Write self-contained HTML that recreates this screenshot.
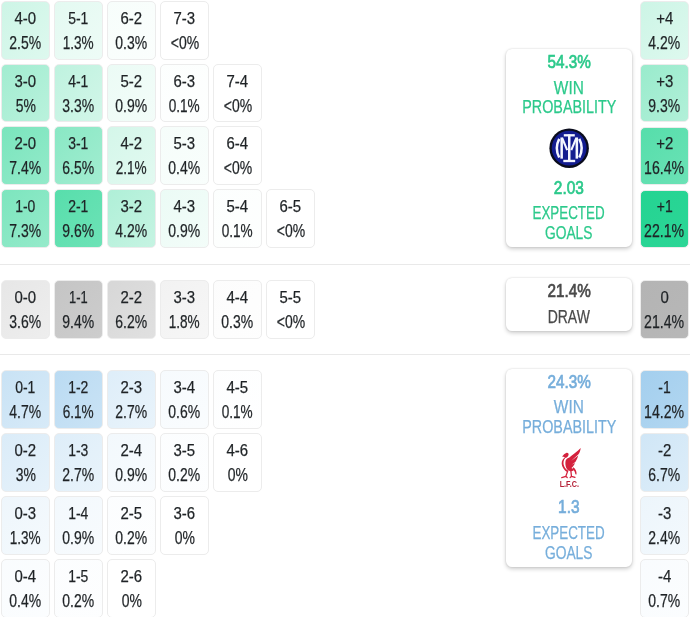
<!DOCTYPE html>
<html lang="en"><head><meta charset="utf-8"><title>Score matrix</title>
<style>
html,body{margin:0;padding:0;background:#fff}
body{width:690px;height:617px;position:relative;overflow:hidden;font-family:"Liberation Sans",sans-serif;color:#1f2326}
.c{position:absolute;box-sizing:border-box;width:49px;height:59px;border:1px solid #ececec;border-radius:5px;background-color:#fff;text-align:center;font-size:17px;line-height:24.5px;padding-top:5px;white-space:nowrap;display:flex;flex-direction:column;align-items:center}
.c .t{display:block;height:24.5px;flex:none}
.t{display:inline-block;transform-origin:center;-webkit-text-stroke:.25px currentColor}
.u{font-size:17.7px;position:relative;top:-1px}
.b{-webkit-text-stroke:.7px currentColor}
.hr{position:absolute;left:0;width:690px;height:1px;background:#e9e9e9}
.card{position:absolute;box-sizing:border-box;background:#fff;border-radius:6px;box-shadow:0 2px 4px rgba(0,0,0,.2),0 0 2px rgba(0,0,0,.14);font-size:18.4px;line-height:22px;text-align:center;white-space:nowrap}
.card.g{color:#2cc98b}.card.bl{color:#76aedb}.card.k{color:#4a4a4a}
.l{position:absolute;left:-40px;right:-40px;text-align:center;height:22px}
.logo{position:absolute;left:33px;top:69px}
</style></head><body>
<div class="hr" style="top:264px"></div>
<div class="hr" style="top:354px"></div>
<div class="c" style="left:1px;top:1px;height:59px;padding-top:5px;background-image:linear-gradient(135deg,rgba(36,212,146,0.228),rgba(36,212,146,0.152))"><span class="t" style="transform:scaleX(0.88)">4-0</span><span class="t u" style="transform:scaleX(0.79)">2.5%</span></div>
<div class="c" style="left:54px;top:1px;height:59px;padding-top:5px;background-image:linear-gradient(135deg,rgba(36,212,146,0.127),rgba(36,212,146,0.080))"><span class="t" style="transform:scaleX(0.82)">5-1</span><span class="t u" style="transform:scaleX(0.77)">1.3%</span></div>
<div class="c" style="left:107px;top:1px;height:59px;padding-top:5px;background-image:linear-gradient(135deg,rgba(36,212,146,0.034),rgba(36,212,146,0.020))"><span class="t" style="transform:scaleX(0.88)">6-2</span><span class="t u" style="transform:scaleX(0.79)">0.3%</span></div>
<div class="c" style="left:160px;top:1px;height:59px;padding-top:5px;background-image:none"><span class="t" style="transform:scaleX(0.88)">7-3</span><span class="t u" style="transform:scaleX(0.79)">&lt;0%</span></div>
<div class="c" style="left:1px;top:64px;height:58px;padding-top:5px;background-image:linear-gradient(135deg,rgba(36,212,146,0.426),rgba(36,212,146,0.316))"><span class="t" style="transform:scaleX(0.88)">3-0</span><span class="t u" style="transform:scaleX(0.79)">5%</span></div>
<div class="c" style="left:54px;top:64px;height:58px;padding-top:5px;background-image:linear-gradient(135deg,rgba(36,212,146,0.293),rgba(36,212,146,0.202))"><span class="t" style="transform:scaleX(0.82)">4-1</span><span class="t u" style="transform:scaleX(0.79)">3.3%</span></div>
<div class="c" style="left:107px;top:64px;height:58px;padding-top:5px;background-image:linear-gradient(135deg,rgba(36,212,146,0.091),rgba(36,212,146,0.056))"><span class="t" style="transform:scaleX(0.88)">5-2</span><span class="t u" style="transform:scaleX(0.79)">0.9%</span></div>
<div class="c" style="left:160px;top:64px;height:58px;padding-top:5px;background-image:linear-gradient(135deg,rgba(36,212,146,0.013),rgba(36,212,146,0.007))"><span class="t" style="transform:scaleX(0.88)">6-3</span><span class="t u" style="transform:scaleX(0.77)">0.1%</span></div>
<div class="c" style="left:213px;top:64px;height:58px;padding-top:5px;background-image:none"><span class="t" style="transform:scaleX(0.88)">7-4</span><span class="t u" style="transform:scaleX(0.79)">&lt;0%</span></div>
<div class="c" style="left:1px;top:126px;height:59px;padding-top:5px;background-image:linear-gradient(135deg,rgba(36,212,146,0.606),rgba(36,212,146,0.491))"><span class="t" style="transform:scaleX(0.88)">2-0</span><span class="t u" style="transform:scaleX(0.79)">7.4%</span></div>
<div class="c" style="left:54px;top:126px;height:59px;padding-top:5px;background-image:linear-gradient(135deg,rgba(36,212,146,0.539),rgba(36,212,146,0.423))"><span class="t" style="transform:scaleX(0.82)">3-1</span><span class="t u" style="transform:scaleX(0.79)">6.5%</span></div>
<div class="c" style="left:107px;top:126px;height:59px;padding-top:5px;background-image:linear-gradient(135deg,rgba(36,212,146,0.195),rgba(36,212,146,0.128))"><span class="t" style="transform:scaleX(0.88)">4-2</span><span class="t u" style="transform:scaleX(0.77)">2.1%</span></div>
<div class="c" style="left:160px;top:126px;height:59px;padding-top:5px;background-image:linear-gradient(135deg,rgba(36,212,146,0.044),rgba(36,212,146,0.026))"><span class="t" style="transform:scaleX(0.88)">5-3</span><span class="t u" style="transform:scaleX(0.79)">0.4%</span></div>
<div class="c" style="left:213px;top:126px;height:59px;padding-top:5px;background-image:none"><span class="t" style="transform:scaleX(0.88)">6-4</span><span class="t u" style="transform:scaleX(0.79)">&lt;0%</span></div>
<div class="c" style="left:1px;top:189px;height:59px;padding-top:5px;background-image:linear-gradient(135deg,rgba(36,212,146,0.598),rgba(36,212,146,0.483))"><span class="t" style="transform:scaleX(0.82)">1-0</span><span class="t u" style="transform:scaleX(0.79)">7.3%</span></div>
<div class="c" style="left:54px;top:189px;height:59px;padding-top:5px;background-image:linear-gradient(135deg,rgba(36,212,146,0.766),rgba(36,212,146,0.667))"><span class="t" style="transform:scaleX(0.82)">2-1</span><span class="t u" style="transform:scaleX(0.79)">9.6%</span></div>
<div class="c" style="left:107px;top:189px;height:59px;padding-top:5px;background-image:linear-gradient(135deg,rgba(36,212,146,0.364),rgba(36,212,146,0.261))"><span class="t" style="transform:scaleX(0.88)">3-2</span><span class="t u" style="transform:scaleX(0.79)">4.2%</span></div>
<div class="c" style="left:160px;top:189px;height:59px;padding-top:5px;background-image:linear-gradient(135deg,rgba(36,212,146,0.091),rgba(36,212,146,0.056))"><span class="t" style="transform:scaleX(0.88)">4-3</span><span class="t u" style="transform:scaleX(0.79)">0.9%</span></div>
<div class="c" style="left:213px;top:189px;height:59px;padding-top:5px;background-image:linear-gradient(135deg,rgba(36,212,146,0.013),rgba(36,212,146,0.007))"><span class="t" style="transform:scaleX(0.88)">5-4</span><span class="t u" style="transform:scaleX(0.77)">0.1%</span></div>
<div class="c" style="left:266px;top:189px;height:59px;padding-top:5px;background-image:none"><span class="t" style="transform:scaleX(0.88)">6-5</span><span class="t u" style="transform:scaleX(0.79)">&lt;0%</span></div>
<div class="c" style="left:1px;top:280px;height:59px;padding-top:5px;background-image:linear-gradient(135deg,rgba(178,178,178,0.317),rgba(178,178,178,0.222))"><span class="t" style="transform:scaleX(0.88)">0-0</span><span class="t u" style="transform:scaleX(0.79)">3.6%</span></div>
<div class="c" style="left:54px;top:280px;height:59px;padding-top:5px;background-image:linear-gradient(135deg,rgba(178,178,178,0.751),rgba(178,178,178,0.650))"><span class="t" style="transform:scaleX(0.76)">1-1</span><span class="t u" style="transform:scaleX(0.79)">9.4%</span></div>
<div class="c" style="left:107px;top:280px;height:59px;padding-top:5px;background-image:linear-gradient(135deg,rgba(178,178,178,0.517),rgba(178,178,178,0.401))"><span class="t" style="transform:scaleX(0.88)">2-2</span><span class="t u" style="transform:scaleX(0.79)">6.2%</span></div>
<div class="c" style="left:160px;top:280px;height:59px;padding-top:5px;background-image:linear-gradient(135deg,rgba(178,178,178,0.170),rgba(178,178,178,0.109))"><span class="t" style="transform:scaleX(0.88)">3-3</span><span class="t u" style="transform:scaleX(0.77)">1.8%</span></div>
<div class="c" style="left:213px;top:280px;height:59px;padding-top:5px;background-image:linear-gradient(135deg,rgba(178,178,178,0.034),rgba(178,178,178,0.020))"><span class="t" style="transform:scaleX(0.88)">4-4</span><span class="t u" style="transform:scaleX(0.79)">0.3%</span></div>
<div class="c" style="left:266px;top:280px;height:59px;padding-top:5px;background-image:none"><span class="t" style="transform:scaleX(0.88)">5-5</span><span class="t u" style="transform:scaleX(0.79)">&lt;0%</span></div>
<div class="c" style="left:1px;top:370px;height:59px;padding-top:5px;background-image:linear-gradient(135deg,rgba(120,184,230,0.403),rgba(120,184,230,0.295))"><span class="t" style="transform:scaleX(0.82)">0-1</span><span class="t u" style="transform:scaleX(0.79)">4.7%</span></div>
<div class="c" style="left:54px;top:370px;height:59px;padding-top:5px;background-image:linear-gradient(135deg,rgba(120,184,230,0.509),rgba(120,184,230,0.394))"><span class="t" style="transform:scaleX(0.82)">1-2</span><span class="t u" style="transform:scaleX(0.77)">6.1%</span></div>
<div class="c" style="left:107px;top:370px;height:59px;padding-top:5px;background-image:linear-gradient(135deg,rgba(120,184,230,0.244),rgba(120,184,230,0.165))"><span class="t" style="transform:scaleX(0.88)">2-3</span><span class="t u" style="transform:scaleX(0.79)">2.7%</span></div>
<div class="c" style="left:160px;top:370px;height:59px;padding-top:5px;background-image:linear-gradient(135deg,rgba(120,184,230,0.063),rgba(120,184,230,0.038))"><span class="t" style="transform:scaleX(0.88)">3-4</span><span class="t u" style="transform:scaleX(0.79)">0.6%</span></div>
<div class="c" style="left:213px;top:370px;height:59px;padding-top:5px;background-image:linear-gradient(135deg,rgba(120,184,230,0.013),rgba(120,184,230,0.007))"><span class="t" style="transform:scaleX(0.88)">4-5</span><span class="t u" style="transform:scaleX(0.77)">0.1%</span></div>
<div class="c" style="left:1px;top:433px;height:59px;padding-top:5px;background-image:linear-gradient(135deg,rgba(120,184,230,0.269),rgba(120,184,230,0.183))"><span class="t" style="transform:scaleX(0.88)">0-2</span><span class="t u" style="transform:scaleX(0.79)">3%</span></div>
<div class="c" style="left:54px;top:433px;height:59px;padding-top:5px;background-image:linear-gradient(135deg,rgba(120,184,230,0.244),rgba(120,184,230,0.165))"><span class="t" style="transform:scaleX(0.82)">1-3</span><span class="t u" style="transform:scaleX(0.79)">2.7%</span></div>
<div class="c" style="left:107px;top:433px;height:59px;padding-top:5px;background-image:linear-gradient(135deg,rgba(120,184,230,0.091),rgba(120,184,230,0.056))"><span class="t" style="transform:scaleX(0.88)">2-4</span><span class="t u" style="transform:scaleX(0.79)">0.9%</span></div>
<div class="c" style="left:160px;top:433px;height:59px;padding-top:5px;background-image:linear-gradient(135deg,rgba(120,184,230,0.023),rgba(120,184,230,0.014))"><span class="t" style="transform:scaleX(0.88)">3-5</span><span class="t u" style="transform:scaleX(0.79)">0.2%</span></div>
<div class="c" style="left:213px;top:433px;height:59px;padding-top:5px;background-image:none"><span class="t" style="transform:scaleX(0.88)">4-6</span><span class="t u" style="transform:scaleX(0.79)">0%</span></div>
<div class="c" style="left:1px;top:496px;height:59px;padding-top:5px;background-image:linear-gradient(135deg,rgba(120,184,230,0.127),rgba(120,184,230,0.080))"><span class="t" style="transform:scaleX(0.88)">0-3</span><span class="t u" style="transform:scaleX(0.77)">1.3%</span></div>
<div class="c" style="left:54px;top:496px;height:59px;padding-top:5px;background-image:linear-gradient(135deg,rgba(120,184,230,0.091),rgba(120,184,230,0.056))"><span class="t" style="transform:scaleX(0.82)">1-4</span><span class="t u" style="transform:scaleX(0.79)">0.9%</span></div>
<div class="c" style="left:107px;top:496px;height:59px;padding-top:5px;background-image:linear-gradient(135deg,rgba(120,184,230,0.023),rgba(120,184,230,0.014))"><span class="t" style="transform:scaleX(0.88)">2-5</span><span class="t u" style="transform:scaleX(0.79)">0.2%</span></div>
<div class="c" style="left:160px;top:496px;height:59px;padding-top:5px;background-image:none"><span class="t" style="transform:scaleX(0.88)">3-6</span><span class="t u" style="transform:scaleX(0.79)">0%</span></div>
<div class="c" style="left:1px;top:559px;height:59px;padding-top:5px;background-image:linear-gradient(135deg,rgba(120,184,230,0.044),rgba(120,184,230,0.026))"><span class="t" style="transform:scaleX(0.88)">0-4</span><span class="t u" style="transform:scaleX(0.79)">0.4%</span></div>
<div class="c" style="left:54px;top:559px;height:59px;padding-top:5px;background-image:linear-gradient(135deg,rgba(120,184,230,0.023),rgba(120,184,230,0.014))"><span class="t" style="transform:scaleX(0.82)">1-5</span><span class="t u" style="transform:scaleX(0.79)">0.2%</span></div>
<div class="c" style="left:107px;top:559px;height:59px;padding-top:5px;background-image:none"><span class="t" style="transform:scaleX(0.88)">2-6</span><span class="t u" style="transform:scaleX(0.79)">0%</span></div>
<div class="c" style="left:640px;top:1px;height:59px;padding-top:5px;background-image:linear-gradient(135deg,rgba(36,212,146,0.230),rgba(36,212,146,0.153))"><span class="t" style="transform:scaleX(0.88)">+4</span><span class="t u" style="transform:scaleX(0.79)">4.2%</span></div>
<div class="c" style="left:640px;top:64px;height:58px;padding-top:5px;background-image:linear-gradient(135deg,rgba(36,212,146,0.466),rgba(36,212,146,0.353))"><span class="t" style="transform:scaleX(0.88)">+3</span><span class="t u" style="transform:scaleX(0.79)">9.3%</span></div>
<div class="c" style="left:640px;top:127px;height:58px;padding-top:4px;background-image:linear-gradient(135deg,rgba(36,212,146,0.772),rgba(36,212,146,0.674))"><span class="t" style="transform:scaleX(0.88)">+2</span><span class="t u" style="transform:scaleX(0.80)">16.4%</span></div>
<div class="c" style="left:640px;top:190px;height:58px;padding-top:4px;background-image:linear-gradient(135deg,rgba(36,212,146,1.000),rgba(36,212,146,0.960))"><span class="t" style="transform:scaleX(0.82)">+1</span><span class="t u" style="transform:scaleX(0.80)">22.1%</span></div>
<div class="c" style="left:640px;top:280px;height:59px;padding-top:5px;background-image:linear-gradient(135deg,rgba(178,178,178,0.978),rgba(178,178,178,0.930))"><span class="t" style="transform:scaleX(0.88)">0</span><span class="t u" style="transform:scaleX(0.80)">21.4%</span></div>
<div class="c" style="left:640px;top:370px;height:59px;padding-top:5px;background-image:linear-gradient(135deg,rgba(120,184,230,0.679),rgba(120,184,230,0.569))"><span class="t" style="transform:scaleX(0.82)">-1</span><span class="t u" style="transform:scaleX(0.80)">14.2%</span></div>
<div class="c" style="left:640px;top:433px;height:59px;padding-top:5px;background-image:linear-gradient(135deg,rgba(120,184,230,0.348),rgba(120,184,230,0.248))"><span class="t" style="transform:scaleX(0.88)">-2</span><span class="t u" style="transform:scaleX(0.79)">6.7%</span></div>
<div class="c" style="left:640px;top:496px;height:59px;padding-top:5px;background-image:linear-gradient(135deg,rgba(120,184,230,0.139),rgba(120,184,230,0.088))"><span class="t" style="transform:scaleX(0.88)">-3</span><span class="t u" style="transform:scaleX(0.79)">2.4%</span></div>
<div class="c" style="left:640px;top:559px;height:59px;padding-top:5px;background-image:linear-gradient(135deg,rgba(120,184,230,0.047),rgba(120,184,230,0.028))"><span class="t" style="transform:scaleX(0.88)">-4</span><span class="t u" style="transform:scaleX(0.79)">0.7%</span></div>


<div class="card g" style="left:506px;top:49px;width:126px;height:198px">
<div class="l " style="top:2.4px"><span class="t b" style="transform:scaleX(0.830)">54.3%</span></div>
<div class="l " style="top:27.5px"><span class="t" style="transform:scaleX(0.840)">WIN</span></div>
<div class="l " style="top:47.3px"><span class="t" style="transform:scaleX(0.780)">PROBABILITY</span></div>
<svg class="logo" width="60" height="60" viewBox="0 0 617 617">
<circle cx="310" cy="310" r="203" fill="#0a0c1c"/>
<circle cx="310" cy="310" r="179" fill="#131c90"/>
<g fill="none" stroke="#f4f6ff" stroke-width="26">
<path d="M208 214Q158 310 208 406"/>
<path d="M414 214Q464 310 414 406"/>
<path d="M233 200V418"/>
<path d="M389 200V418"/>
<path d="M238 205L290 330" stroke-width="22"/>
<path d="M384 205L332 330" stroke-width="22"/>
<path d="M311 170V450"/>
<path d="M255 178H368" stroke-width="24"/>
<path d="M250 442H372" stroke-width="24"/>
</g>
</svg><div class="l " style="top:127.7px"><span class="t b" style="transform:scaleX(0.840)">2.03</span></div>
<div class="l " style="top:153.2px"><span class="t" style="transform:scaleX(0.728)">EXPECTED</span></div>
<div class="l " style="top:173.0px"><span class="t" style="transform:scaleX(0.750)">GOALS</span></div>

</div>
<div class="card k" style="left:506px;top:278px;width:126px;height:53px">
<div class="l " style="top:2.0px"><span class="t b" style="transform:scaleX(0.830)">21.4%</span></div>
<div class="l " style="top:28.0px"><span class="t" style="transform:scaleX(0.760)">DRAW</span></div>

</div>
<div class="card bl" style="left:506px;top:369px;width:126px;height:198px">
<div class="l " style="top:1.8px"><span class="t b" style="transform:scaleX(0.830)">24.3%</span></div>
<div class="l " style="top:27.3px"><span class="t" style="transform:scaleX(0.840)">WIN</span></div>
<div class="l " style="top:47.0px"><span class="t" style="transform:scaleX(0.780)">PROBABILITY</span></div>
<svg class="logo" width="60" height="60" viewBox="0 0 617 617">
<g fill="#d4213d" stroke="none">
<path d="M237 191C250 176 264 158 284 152C300 150 309 162 303 178C299 190 290 196 280 204C270 200 254 194 237 191Z"/>
<path d="M292 186C262 206 248 236 252 268C256 298 276 322 300 340L282 346C254 326 236 298 233 266C231 232 250 204 280 188Z"/>
<path d="M274 232C282 214 296 204 312 200C340 176 392 140 429 102C426 128 418 150 406 168L330 236L404 180C398 204 388 226 374 246L334 276L370 256C362 276 350 294 334 308C346 314 354 322 358 332C340 344 312 344 296 330C276 312 266 270 274 232Z"/>
<path d="M352 300C374 316 390 344 386 372C380 380 374 376 372 366C370 346 360 330 344 318Z"/>
</g>
<g fill="none" stroke="#d4213d" stroke-width="13" stroke-linecap="round" stroke-linejoin="round">
<path d="M296 338L276 394L234 408M276 394L290 406"/>
<path d="M328 340L334 394L370 404M334 394L320 408"/>
</g>
<text x="312" y="505" text-anchor="middle" font-family="Liberation Sans, sans-serif" font-size="102" font-weight="bold" fill="#b42036" textLength="198" lengthAdjust="spacingAndGlyphs">L.F.C.</text>
</svg><div class="l " style="top:126.8px"><span class="t b" style="transform:scaleX(0.840)">1.3</span></div>
<div class="l " style="top:153.0px"><span class="t" style="transform:scaleX(0.728)">EXPECTED</span></div>
<div class="l " style="top:172.6px"><span class="t" style="transform:scaleX(0.750)">GOALS</span></div>

</div>

</body></html>
